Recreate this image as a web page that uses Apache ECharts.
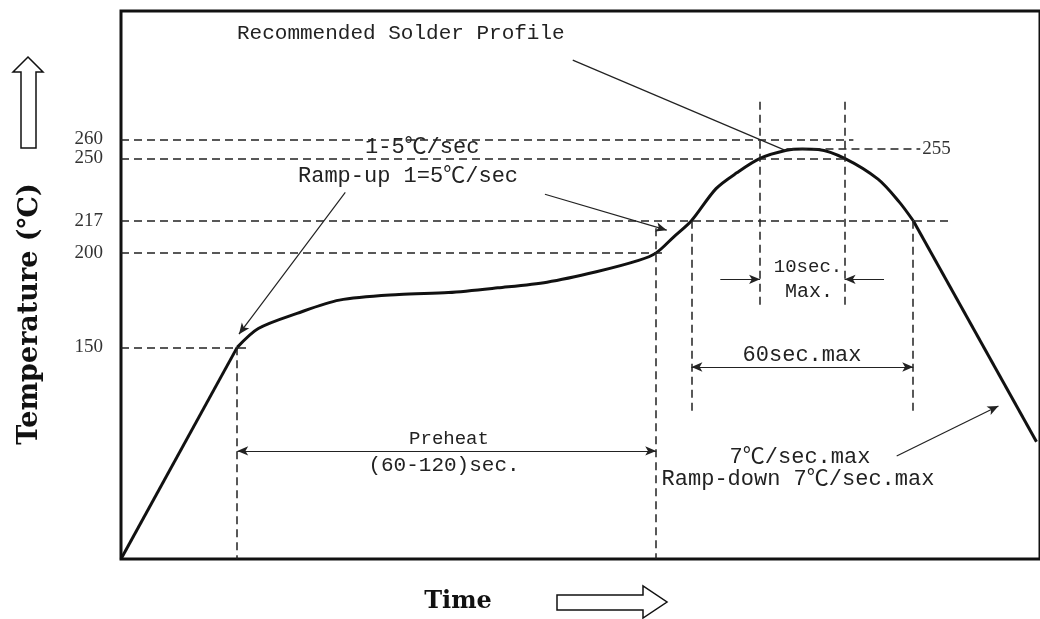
<!DOCTYPE html>
<html>
<head>
<meta charset="utf-8">
<title>Recommended Solder Profile</title>
<script src="https://cdn.jsdelivr.net/npm/echarts@6.0.0/dist/echarts.min.js"></script>
<style>
    html, body { margin: 0; padding: 0; background: #fff; }
    #container { width: 1040px; height: 619px; }
</style>
</head>
<body>
<div id="container"></div>
<script>
// profile: time (sec) / temperature (℃)
var profileTime = [0, 33, 39, 50, 62, 79, 93, 107, 121, 135, 147, 152, 157, 162, 169, 175, 181.5, 189, 193.5, 198, 205.5, 215, 221, 225, 260];
var profileTemp = [38, 150, 160, 168, 175, 178, 179, 181.5, 184.5, 190, 196, 200, 208.5, 217, 234, 242.5, 250, 254.3, 255, 254.7, 250, 239, 227, 217, 100];

// y axis labels
var tickTemps = [150, 200, 217, 250, 260];

// dashed levels
var levelTemps = [260, 255, 250, 217, 200, 150];
var levelStart = [0, 189, 0, 0, 0, 0];
var levelEnd = [208, 227, 205.5, 235.5, 154.5, 35.5];

// dashed verticals
var markTimes = [33, 152, 162, 225, 181.5, 205.5];
var markTop = [150, 213, 217, 217, 280, 280];
var markBottom = [38, 38, 115, 115, 170, 170];

// pointer lines [from, to, arrow at start, arrow at end]
var pointers = [
    [[63.7, 232], [33.5, 157], false, true],
    [[120.4, 231], [155, 212], false, true],
    [[128.3, 302], [189, 254], false, false],
    [[220.3, 92.5], [249.2, 119], false, true],
    [[33, 95.2], [152, 95.2], true, true],
    [[162, 139.6], [225, 139.6], true, true],
    [[170.2, 186], [181.5, 186], false, true],
    [[216.7, 186], [205.5, 186], false, true]
];

$(function () {
    initChart();
});

function $(fn) {
    if (document.readyState !== 'loading') fn();
    else document.addEventListener('DOMContentLoaded', fn);
}

function pairs(xs, ys, from, to) {
    var out = [];
    for (var i = from; i <= to; i++) out.push([xs[i], ys[i]]);
    return out;
}

function initChart() {
    var dom = document.getElementById("container");
    var myChart = echarts.init(dom);
    var n = profileTime.length;
    var ink = '#111';
    var mono = 'Liberation Mono';

    var dashStyle = {type: [8, 5], width: 1.5, color: '#222'};
    var marks = [];
    for (var i = 0; i < levelTemps.length; i++) {
        var item = [
            {coord: [levelStart[i], levelTemps[i]], symbol: 'none'},
            {coord: [levelEnd[i], levelTemps[i]], symbol: 'none'}
        ];
        if (levelTemps[i] === 255) {
            item[1].label = {
                show: true, position: 'end', distance: 2, formatter: '255',
                fontFamily: 'Liberation Serif', fontSize: 19, color: '#333'
            };
        }
        item[0].lineStyle = dashStyle;
        marks.push(item);
    }
    for (var j = 0; j < markTimes.length; j++) {
        marks.push([
            {coord: [markTimes[j], markTop[j]], symbol: 'none', lineStyle: dashStyle},
            {coord: [markTimes[j], markBottom[j]], symbol: 'none'}
        ]);
    }
    for (var k = 0; k < pointers.length; k++) {
        var p = pointers[k];
        marks.push([
            {coord: p[0], symbol: p[2] ? 'arrow' : 'none', symbolSize: [7, 11],
                lineStyle: {type: 'solid', width: 1.2, color: '#222'}},
            {coord: p[1], symbol: p[3] ? 'arrow' : 'none', symbolSize: [7, 11]}
        ]);
    }

    function note(text, x, y, align, size) {
        return {
            type: 'text', x: x, y: y, silent: true,
            style: {
                text: text, fill: '#222', align: align || 'center', verticalAlign: 'middle',
                font: (size || 20) + 'px "' + mono + '", "Noto Sans CJK SC", monospace'
            }
        };
    }

    var option = {
        animation: false,
        backgroundColor: '#fff',
        grid: {left: 121, right: -4, top: 11, bottom: 60, show: true, borderColor: ink, borderWidth: 3},
        xAxis: {
            type: 'value', min: 0, max: 261,
            axisLine: {show: false}, axisTick: {show: false},
            axisLabel: {show: false}, splitLine: {show: false}
        },
        yAxis: {
            type: 'value', min: 38, max: 328,
            axisLine: {show: false}, axisTick: {show: false}, splitLine: {show: false},
            axisLabel: {
                customValues: tickTemps, margin: 18, hideOverlap: false,
                fontFamily: 'Liberation Serif', fontSize: 19, color: '#333'
            }
        },
        graphic: [
            note('Recommended Solder Profile', 237, 33, 'left', 21),
            note('1-5℃/sec', 365, 147, 'left', 22),
            note('Ramp-up 1=5℃/sec', 298, 176, 'left', 22),
            note('10sec.', 808, 267, 'center', 19),
            note('Max.', 809, 292, 'center', 20),
            note('60sec.max', 802, 355, 'center', 22),
            note('Preheat', 449, 439, 'center', 19),
            note('(60-120)sec.', 444, 465, 'center', 21),
            note('7℃/sec.max', 800, 457, 'center', 22),
            note('Ramp-down 7℃/sec.max', 798, 479, 'center', 22),
            {
                type: 'text', x: 30, y: 314, rotation: Math.PI / 2, silent: true,
                style: {
                    text: 'Temperature (℃)', fill: ink, align: 'center', verticalAlign: 'middle',
                    font: 'bold 27px "DejaVu Serif", serif'
                }
            },
            {
                type: 'text', x: 458, y: 602, silent: true,
                style: {
                    text: 'Time', fill: ink, align: 'center', verticalAlign: 'middle',
                    font: 'bold 24px "DejaVu Serif", serif'
                }
            },
            {
                type: 'polygon', silent: true,
                shape: {points: [[28, 57], [43, 72], [36, 72], [36, 148], [21, 148], [21, 72], [13, 72]]},
                style: {fill: '#fff', stroke: ink, lineWidth: 1.5}
            },
            {
                type: 'polygon', silent: true,
                shape: {points: [[557, 595], [643, 595], [643, 586], [667, 602], [643, 618], [643, 610], [557, 610]]},
                style: {fill: '#fff', stroke: ink, lineWidth: 1.5}
            }
        ],
        series: [
            {
                type: 'line', symbol: 'none', silent: true,
                data: pairs(profileTime, profileTemp, 0, 1),
                lineStyle: {width: 3, color: ink},
                markLine: {silent: true, symbol: ['none', 'none'], label: {show: false}, data: marks}
            },
            {
                type: 'line', symbol: 'none', silent: true, smooth: 0.3,
                data: pairs(profileTime, profileTemp, 1, n - 2),
                lineStyle: {width: 3, color: ink}
            },
            {
                type: 'line', symbol: 'none', silent: true,
                data: pairs(profileTime, profileTemp, n - 2, n - 1),
                lineStyle: {width: 3, color: ink}
            }
        ]
    };
    myChart.setOption(option, true);
}
</script>
</body>
</html>
